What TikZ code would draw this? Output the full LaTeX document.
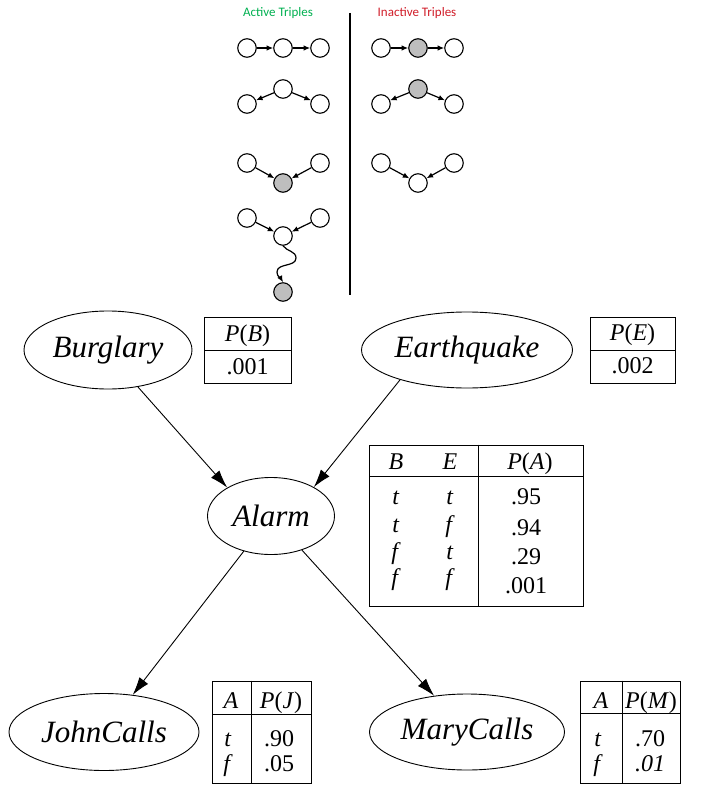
\documentclass[tikz,border=0pt]{standalone}
\usepackage{fontspec}
\setmainfont{Liberation Serif}
\newfontfamily\labelfont{Carlito}
\usepackage{xcolor}
\usetikzlibrary{shapes.geometric}
\usetikzlibrary{arrows.meta}
\usetikzlibrary{positioning}
\definecolor{activegreen}{RGB}{0,176,80}
\definecolor{inactivered}{RGB}{208,28,40}
\definecolor{shade}{RGB}{190,190,190}
\tikzstyle{varnode}  = [ellipse, draw, line width=0.9pt, inner sep=0pt, font=\fontsize{31}{36}\selectfont\itshape]
\tikzstyle{cpt}      = [rectangle, draw, line width=1pt, inner sep=0pt]
\tikzstyle{entry}    = [inner sep=0pt, yshift=-5pt, text height=0.68em, text depth=0.2em, font=\fontsize{24}{28}\selectfont]
\tikzstyle{knot}     = [circle, draw, line width=1.1pt, minimum size=18.5pt, inner sep=0pt, fill=white]
\tikzstyle{obs}      = [knot, fill=shade]
\tikzstyle{link}     = [draw, line width=0.9pt, -{Latex[length=18pt,width=11pt]}]
\tikzstyle{minilink} = [draw, line width=1.2pt, -{Latex[length=6.5pt,width=5.5pt]}]
\tikzstyle{title}    = [font=\labelfont\fontsize{13}{15}\selectfont]

\begin{document}
\begin{tikzpicture}[x=1pt, y=1pt, node distance=12pt]
        \useasboundingbox (0,0) rectangle (712,-802);
        % triples
        \node [title, text=activegreen] (acttitle) at (278,-13) {Active Triples};
        \node [title, text=inactivered] (inacttitle) at (417,-13) {Inactive Triples};
        \coordinate (septop) at (350,-13);
        \coordinate (sepbot) at (350,-295);
        \draw [line width=1.8pt] (septop) -- (sepbot);
        \node [knot] (a1) at (247,-48) {};
        \node [knot] (b1) at (283,-48) {};
        \node [knot] (c1) at (320,-48) {};
        \node [knot] (a2) at (247,-104) {};
        \node [knot] (b2) at (283,-89) {};
        \node [knot] (c2) at (320,-104) {};
        \node [knot] (a3) at (247,-163) {};
        \node [obs]  (b3) at (283,-183) {};
        \node [knot] (c3) at (320,-163) {};
        \node [knot] (a4) at (247,-218) {};
        \node [knot] (b4) at (283,-236) {};
        \node [knot] (c4) at (320,-218) {};
        \node [obs]  (d4) at (283,-292) {};
        \node [knot] (p1) at (381,-48) {};
        \node [obs]  (q1) at (418,-48) {};
        \node [knot] (r1) at (454,-48) {};
        \node [knot] (p2) at (381,-104) {};
        \node [obs]  (q2) at (418,-89) {};
        \node [knot] (r2) at (454,-104) {};
        \node [knot] (p3) at (381,-163) {};
        \node [knot] (q3) at (418,-183) {};
        \node [knot] (r3) at (454,-163) {};
        \path [minilink] (a1) -- (b1);
        \path [minilink] (b1) -- (c1);
        \path [minilink] (b2) -- (a2);
        \path [minilink] (b2) -- (c2);
        \path [minilink] (a3) -- (b3);
        \path [minilink] (c3) -- (b3);
        \path [minilink] (a4) -- (b4);
        \path [minilink] (c4) -- (b4);
        \path [minilink] (b4.south) to[out=-55,in=90] (296,-258) to[out=-90,in=90] (277,-272) to[out=-90,in=120] (d4.north);
        \path [minilink] (p1) -- (q1);
        \path [minilink] (q1) -- (r1);
        \path [minilink] (q2) -- (p2);
        \path [minilink] (q2) -- (r2);
        \path [minilink] (p3) -- (q3);
        \path [minilink] (r3) -- (q3);
        % network
        \node [varnode, minimum width=168pt, minimum height=78pt] (burglary) at (108,-350) {Burglary};
        \node [varnode, minimum width=211pt, minimum height=76pt] (earthquake) at (467,-350) {Earthquake};
        \node [varnode, minimum width=127pt, minimum height=77pt] (alarm) at (271,-516) {Alarm};
        \node [varnode, minimum width=190pt, minimum height=77pt] (john) at (104,-732) {JohnCalls};
        \node [varnode, minimum width=195pt, minimum height=76pt] (mary) at (467,-732) {MaryCalls};
        \path [link] (burglary.-51) -- (alarm.147);
        \path [link] (earthquake.204) -- (alarm.34);
        \path [link] (alarm) -- (john);
        \path [link] (alarm) -- (mary);
        % tables
        \node [cpt, right=of burglary, minimum width=87pt, minimum height=66pt] (cptb) {};
        \draw [line width=1pt] (cptb.west) -- (cptb.east);
        \node [entry] (cptbh) at (247.5,-334) {\textit{P}(\textit{B})};
        \node [entry] (cptbv) at (247.5,-367) {.001};
        \node [cpt, right=17pt of earthquake, minimum width=85pt, minimum height=66pt] (cpte) {};
        \draw [line width=1pt] (cpte.west) -- (cpte.east);
        \node [entry] (cpteh) at (632.5,-333) {\textit{P}(\textit{E})};
        \node [entry] (cptev) at (632.5,-366) {.002};
        \node [cpt, right=34.5pt of alarm, yshift=-9.5pt, minimum width=214pt, minimum height=161pt] (cpta) {};
        \draw [line width=1pt] ([yshift=-32pt]cpta.north west) -- ([yshift=-32pt]cpta.north east);
        \draw [line width=1pt] ([xshift=109pt]cpta.north west) -- ([xshift=109pt]cpta.south west);
        \node [entry] (cptab) at (396,-462) {\textit{B}};
        \node [entry] (cptae) at (450,-462) {\textit{E}};
        \node [entry] (cptah) at (530,-462) {\textit{P}(\textit{A})};
        \node [entry] (cptab1) at (396,-497) {\textit{t}};
        \node [entry] (cptae1) at (450,-497) {\textit{t}};
        \node [entry] (cptav1) at (526,-497) {.95};
        \node [entry] (cptab2) at (396,-525) {\textit{t}};
        \node [entry] (cptae2) at (450,-525) {\textit{f}};
        \node [entry] (cptav2) at (526,-528) {.94};
        \node [entry] (cptab3) at (396,-552) {\textit{f}};
        \node [entry] (cptae3) at (450,-552) {\textit{t}};
        \node [entry] (cptav3) at (526,-557) {.29};
        \node [entry] (cptab4) at (396,-578) {\textit{f}};
        \node [entry] (cptae4) at (450,-578) {\textit{f}};
        \node [entry] (cptav4) at (526,-586) {.001};
        \node [cpt, right=13pt of john, minimum width=99pt, minimum height=102pt] (cptj) {};
        \draw [line width=1pt] ([yshift=-34pt]cptj.north west) -- ([yshift=-34pt]cptj.north east);
        \draw [line width=1pt] ([xshift=39pt]cptj.north west) -- ([xshift=39pt]cptj.south west);
        \node [entry] (cptja) at (231,-701) {\textit{A}};
        \node [entry] (cptjh) at (281,-701) {\textit{P}(\textit{J})};
        \node [entry] (cptja1) at (228,-739) {\textit{t}};
        \node [entry] (cptjv1) at (279,-739) {.90};
        \node [entry] (cptja2) at (228,-764) {\textit{f}};
        \node [entry] (cptjv2) at (279,-764) {.05};
        \node [cpt, right=15.5pt of mary, minimum width=100pt, minimum height=102pt] (cptm) {};
        \draw [line width=1pt] ([yshift=-33pt]cptm.north west) -- ([yshift=-33pt]cptm.north east);
        \draw [line width=1pt] ([xshift=42pt]cptm.north west) -- ([xshift=42pt]cptm.south west);
        \node [entry] (cptma) at (601,-701) {\textit{A}};
        \node [entry] (cptmh) at (651,-701) {\textit{P}(\textit{M})};
        \node [entry] (cptma1) at (598,-739) {\textit{t}};
        \node [entry] (cptmv1) at (650,-739) {.70};
        \node [entry] (cptma2) at (598,-764) {\textit{f}};
        \node [entry] (cptmv2) at (650,-764) {\textit{.01}};
\end{tikzpicture}
\end{document}
